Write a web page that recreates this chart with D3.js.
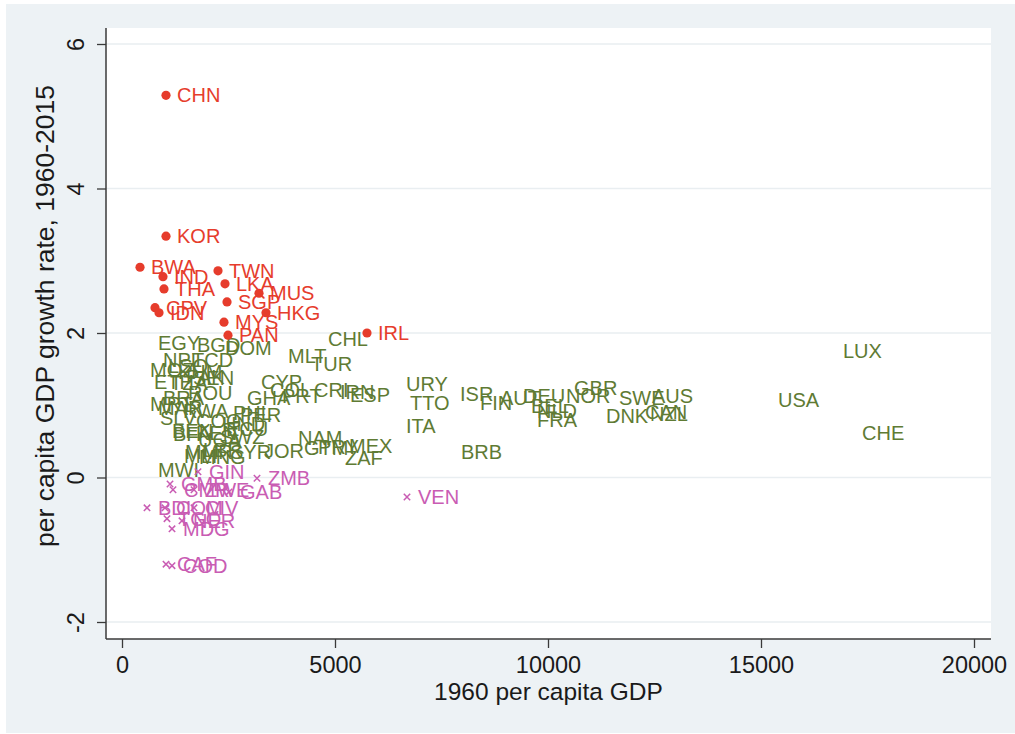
<!DOCTYPE html>
<html>
<head>
<meta charset="utf-8">
<script src="https://cdn.jsdelivr.net/npm/d3@7"></script>
<style>
  html, body { margin: 0; padding: 0; background: #ffffff; }
  svg { display: block; font-family: "Liberation Sans", Arial, Helvetica, sans-serif; }
</style>
</head>
<body>
<svg id="chart" width="1015" height="734"></svg>
<script>
// Fast growers (growth above 2%): 1960 per capita GDP and 1960-2015 growth rate
const fastCodes  = ["CHN","KOR","BWA","IND","THA","CPV","IDN","TWN","LKA","MUS","SGP","HKG","MYS","PAN","IRL"];
const fastGdp    = [1033, 1033, 423, 962, 986, 775, 869, 2254, 2418, 3216, 2465, 3380, 2394, 2488, 5751];
const fastGrowth = [5.29, 3.34, 2.91, 2.78, 2.61, 2.35, 2.28, 2.86, 2.68, 2.55, 2.43, 2.28, 2.15, 1.97, 2.00];

// Countries with growth between 0 and 2%
const midCodes  = ["LUX","CHE","USA","SWE","AUS","DNK","CAN","NZL","GBR","NOR","ISR","FIN","AUT","DEU","BEL","NLD","FRA",
                   "URY","TTO","ITA","BRB","CHL","MLT","TUR","CYP","COL","GHA","PRT","CRI","IRN","ESP",
                   "NAM","GTM","PRY","MEX","ZAF","JOR",
                   "EGY","BGD","DOM","NPL","TCD","MOZ","LSO","KHM","ETH","TZA","PAK","SEN","BRA","ROU",
                   "MRT","MAR","SLV","RWA","PHL","PER","COG","HND","BEN","BFA","KEN","ECU","UGA","SWZ",
                   "MMR","LBR","SYR","MLI","MNG","MWI"];
const midGdp    = [16667,17113,15141,11408,12183,11103,12019,12136,10352,10164,7676,8146,8615,9155,9343,9484,9484,
                   6408,6502,6408,7700,4577,3638,4178,3005,3216,2676,3498,4249,4859,5094,
                   3873,4014,4343,5070,4977,3075,
                   587,1502,2160,704,1385,399,822,1056,493,869,1244,1408,704,1291,
                   399,587,634,1174,2347,2512,1479,2089,915,939,1479,2183,1526,2042,
                   1221,1643,2277,1197,1549,587];
const midGrowth = [1.76,0.62,1.07,1.11,1.13,0.85,0.91,0.88,1.24,1.13,1.16,1.04,1.10,1.13,0.99,0.93,0.80,
                   1.29,1.03,0.71,0.35,1.92,1.68,1.57,1.32,1.21,1.11,1.13,1.21,1.18,1.14,
                   0.55,0.41,0.42,0.44,0.27,0.37,
                   1.86,1.83,1.79,1.63,1.63,1.49,1.54,1.46,1.32,1.31,1.40,1.38,1.10,1.17,
                   1.02,0.96,0.82,0.92,0.89,0.87,0.78,0.75,0.64,0.60,0.62,0.68,0.52,0.56,
                   0.35,0.38,0.35,0.30,0.28,0.10];

// Countries with negative growth
const slowCodes  = ["VEN","ZMB","GIN","GMB","CMR","ZWE","GAB","BDI","COM","CIV","TGO","NER","MDG","CAF","COD"];
const slowGdp    = [6690, 3169, 1784, 1127, 1197, 1690, 2512, 587, 1009, 1690, 1056, 1408, 1174, 1033, 1174];
const slowGrowth = [-0.27, -0.01, 0.08, -0.09, -0.17, -0.17, -0.20, -0.42, -0.42, -0.42, -0.57, -0.60, -0.71, -1.20, -1.22];

// Axis ticks and titles
const xTicks = [0, 5000, 10000, 15000, 20000];
const yTicks = [-2, 0, 2, 4, 6];
const xTitle = "1960 per capita GDP";
const yTitle = "per capita GDP growth rate, 1960-2015";

const colors = { fast: "#e63c2c", mid: "#5f7b34", slow: "#c95cb3" };

const svg = d3.select("#chart");
const W = 1015, H = 734;
const plot = { left: 106, right: 991, top: 28, bottom: 639 };

// Graph and plot backgrounds
svg.append("rect").attr("x", 6).attr("y", 4).attr("width", W - 6).attr("height", H - 5).attr("fill", "#edf2f5");
svg.append("rect").attr("x", plot.left).attr("y", plot.top)
   .attr("width", plot.right - plot.left).attr("height", plot.bottom - plot.top).attr("fill", "#ffffff");

const x = d3.scaleLinear().domain([0, 20000]).range([122, 974]);
const y = d3.scaleLinear().domain([-2, 6]).range([622, 44]);

// Horizontal grid lines
svg.append("g").selectAll("line").data(yTicks).join("line")
   .attr("x1", plot.left).attr("x2", plot.right)
   .attr("y1", d => y(d)).attr("y2", d => y(d))
   .attr("stroke", "#e9eef1").attr("stroke-width", 1.6);

// Plain hyphen for negative numbers
const fmt = d => String(d);

// X axis
const xAxis = svg.append("g").attr("transform", `translate(0,${plot.bottom})`)
   .call(d3.axisBottom(x).tickValues(xTicks).tickFormat(fmt).tickSize(9).tickPadding(8));
xAxis.select(".domain").attr("d", `M${plot.left},0H${plot.right}`);
// Y axis
const yAxis = svg.append("g").attr("transform", `translate(${plot.left},0)`)
   .call(d3.axisLeft(y).tickValues(yTicks).tickFormat(fmt).tickSize(9));
yAxis.select(".domain").attr("d", `M0,${plot.top}V${plot.bottom}`);

[xAxis, yAxis].forEach(g => {
  g.select(".domain").attr("stroke", "#3a3a3a").attr("stroke-width", 1.5);
  g.selectAll(".tick line").attr("stroke", "#3a3a3a").attr("stroke-width", 1.3);
  g.selectAll(".tick text").attr("fill", "#1a1a1a").attr("font-size", 23.5)
   .attr("font-family", "Liberation Sans, Arial, sans-serif");
});
xAxis.selectAll(".tick text").attr("dy", "0.71em");
// Vertical tick labels on the y axis, reading bottom to top
yAxis.selectAll(".tick text")
   .attr("x", null).attr("dy", null)
   .attr("text-anchor", "middle")
   .attr("transform", "translate(-22,0) rotate(-90)");

// Axis titles
svg.append("text").attr("x", (plot.left + plot.right) / 2).attr("y", 700)
   .attr("text-anchor", "middle").attr("font-size", 24.5).attr("fill", "#1a1a1a").text(xTitle);
svg.append("text").attr("transform", "translate(54,316) rotate(-90)")
   .attr("text-anchor", "middle").attr("font-size", 26.5).attr("fill", "#1a1a1a").text(yTitle);

const zip = (codes, gdp, growth) => codes.map((c, i) => ({ code: c, gdp: gdp[i], growth: growth[i] }));
const fast = zip(fastCodes, fastGdp, fastGrowth);
const mid  = zip(midCodes, midGdp, midGrowth);
const slow = zip(slowCodes, slowGdp, slowGrowth);

const labelGap = 11;
function labels(data, color) {
  svg.append("g").selectAll("text").data(data).join("text")
     .attr("x", d => x(d.gdp) + labelGap)
     .attr("y", d => y(d.growth))
     .attr("dy", "0.36em")
     .attr("font-size", 20)
     .attr("fill", color)
     .text(d => d.code);
}

// Middle group: labels only
labels(mid, colors.mid);

// Negative growth: small crosses
const xs = 3.2;
svg.append("g").selectAll("path").data(slow).join("path")
   .attr("d", d => {
     const cx = x(d.gdp), cy = y(d.growth);
     return `M${cx - xs},${cy - xs}L${cx + xs},${cy + xs}M${cx - xs},${cy + xs}L${cx + xs},${cy - xs}`;
   })
   .attr("stroke", colors.slow).attr("stroke-width", 1.5).attr("fill", "none");
labels(slow, colors.slow);

// Fast growers: filled dots
svg.append("g").selectAll("circle").data(fast).join("circle")
   .attr("cx", d => x(d.gdp)).attr("cy", d => y(d.growth)).attr("r", 4.6)
   .attr("fill", colors.fast);
labels(fast, colors.fast);
</script>
</body>
</html>
